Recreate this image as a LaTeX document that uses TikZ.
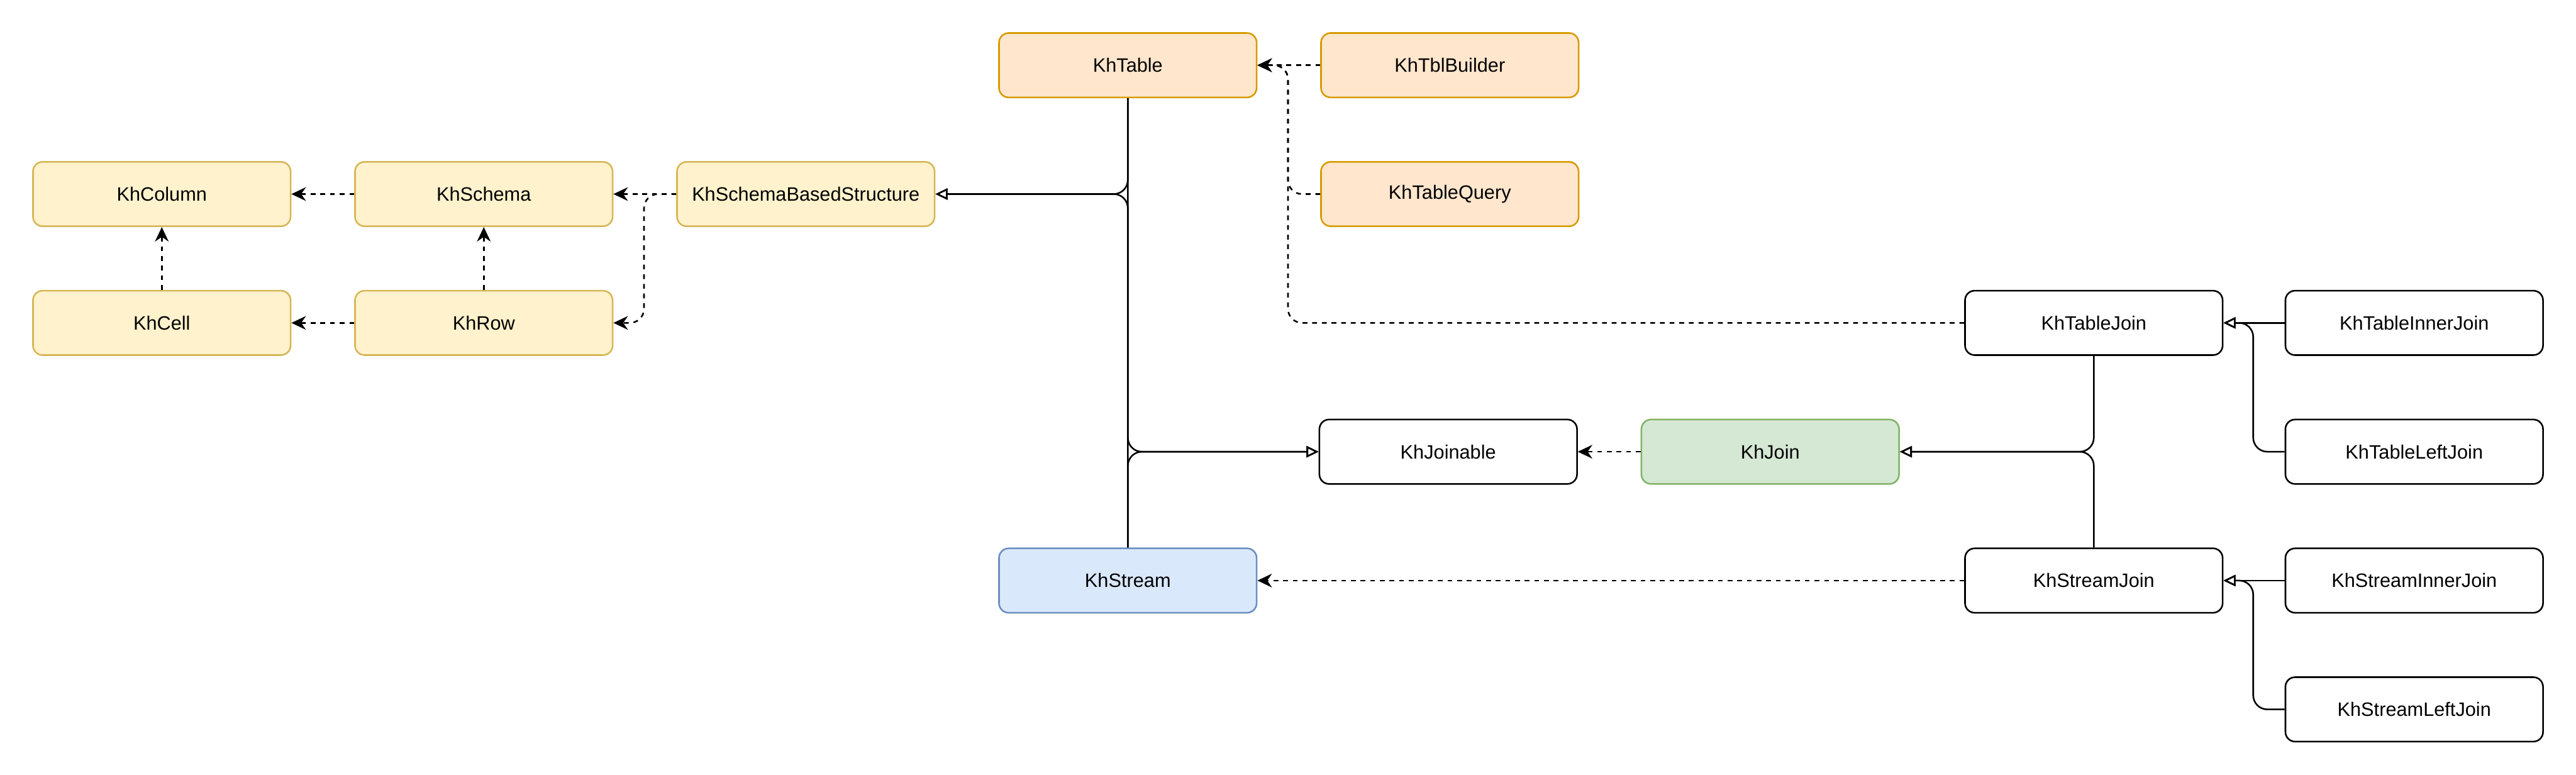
\documentclass[tikz,border=0pt]{standalone}
\usepackage{fontspec}
\setmainfont{Liberation Sans}
\usetikzlibrary{arrows.meta}

\definecolor{tablefill}{HTML}{FFE6CC}
\definecolor{tableline}{HTML}{D79B00}
\definecolor{schemafill}{HTML}{FFF2CC}
\definecolor{schemaline}{HTML}{D6B656}
\definecolor{streamfill}{HTML}{DAE8FC}
\definecolor{streamline}{HTML}{6C8EBF}
\definecolor{joinfill}{HTML}{D5E8D4}
\definecolor{joinline}{HTML}{82B366}

\begin{document}
\begin{tikzpicture}[font = \fontsize{13.66}{16}\selectfont, line width = 1.14pt,
    class box/.style = {shape = rectangle, draw, fill = white, rounded corners = 0.24cm,
        minimum width = 6.4cm, minimum height = 1.6cm, inner sep = 0pt},
    table box/.style = {class box, draw = tableline, fill = tablefill},
    schema box/.style = {class box, draw = schemaline, fill = schemafill},
    stream box/.style = {class box, draw = streamline, fill = streamfill},
    join box/.style = {class box, draw = joinline, fill = joinfill},
    uses/.style = {dash pattern = on 0.12cm off 0.12cm, rounded corners = 0.35cm,
        -{Stealth[length = 0.36cm, width = 0.34cm]}},
    extends/.style = {rounded corners = 0.35cm,
        -{Triangle[open, length = 0.3cm, width = 0.28cm]}}]
    \useasboundingbox (0,0) rectangle (64,-19.24);

    % schema side
    \node [schema box] (KhColumn) at (4.02,-4.82) {KhColumn};
    \node [schema box] (KhSchema) at (12.02,-4.82) {KhSchema};
    \node [schema box] (KhSchemaBasedStructure) at (20.02,-4.82) {KhSchemaBasedStructure};
    \node [schema box] (KhCell) at (4.02,-8.02) {KhCell};
    \node [schema box] (KhRow) at (12.02,-8.02) {KhRow};

    % table / stream
    \node [table box] (KhTable) at (28.02,-1.62) {KhTable};
    \node [table box] (KhTblBuilder) at (36.02,-1.62) {KhTblBuilder};
    \node [table box] (KhTableQuery) at (36.02,-4.82) {KhTableQuery};
    \node [stream box] (KhStream) at (28.02,-14.42) {KhStream};

    % joins
    \node [class box] (KhJoinable) at (35.98,-11.22) {KhJoinable};
    \node [join box] (KhJoin) at (43.98,-11.22) {KhJoin};
    \node [class box] (KhTableJoin) at (52.02,-8.02) {KhTableJoin};
    \node [class box] (KhStreamJoin) at (52.02,-14.42) {KhStreamJoin};
    \node [class box] (KhTableInnerJoin) at (59.98,-8.02) {KhTableInnerJoin};
    \node [class box] (KhTableLeftJoin) at (59.98,-11.22) {KhTableLeftJoin};
    \node [class box] (KhStreamInnerJoin) at (59.98,-14.42) {KhStreamInnerJoin};
    \node [class box] (KhStreamLeftJoin) at (59.98,-17.62) {KhStreamLeftJoin};

    \draw [uses] (KhSchema) -- (KhColumn);
    \draw [uses] (KhRow) -- (KhCell);
    \draw [uses] (KhCell) -- (KhColumn);
    \draw [uses] (KhRow) -- (KhSchema);
    \draw [uses] (KhSchemaBasedStructure) -- (KhSchema);
    \draw [uses] (KhSchemaBasedStructure.west) -- ++(-0.8,0) |- (KhRow.east);

    \draw [extends] (KhTable.south) |- (KhSchemaBasedStructure.east);
    \draw [extends] (KhStream.north) |- (KhSchemaBasedStructure.east);
    \draw [extends] (KhTable.south) |- (KhJoinable.west);
    \draw [extends] (KhStream.north) |- (KhJoinable.west);

    \draw [uses] (KhTblBuilder) -- (KhTable);
    \draw [uses] (KhTableQuery.west) -- ++(-0.8,0) |- (KhTable.east);
    \draw [uses] (KhTableJoin.west) -- ++(-16.8,0) |- (KhTable.east);
    \draw [uses] (KhStreamJoin) -- (KhStream);
    \draw [uses] (KhJoin) -- (KhJoinable);

    \draw [extends] (KhTableJoin.south) |- (KhJoin.east);
    \draw [extends] (KhStreamJoin.north) |- (KhJoin.east);
    \draw [extends] (KhTableInnerJoin) -- (KhTableJoin);
    \draw [extends] (KhTableLeftJoin.west) -- ++(-0.78,0) |- (KhTableJoin.east);
    \draw [extends] (KhStreamInnerJoin) -- (KhStreamJoin);
    \draw [extends] (KhStreamLeftJoin.west) -- ++(-0.78,0) |- (KhStreamJoin.east);
\end{tikzpicture}
\end{document}
